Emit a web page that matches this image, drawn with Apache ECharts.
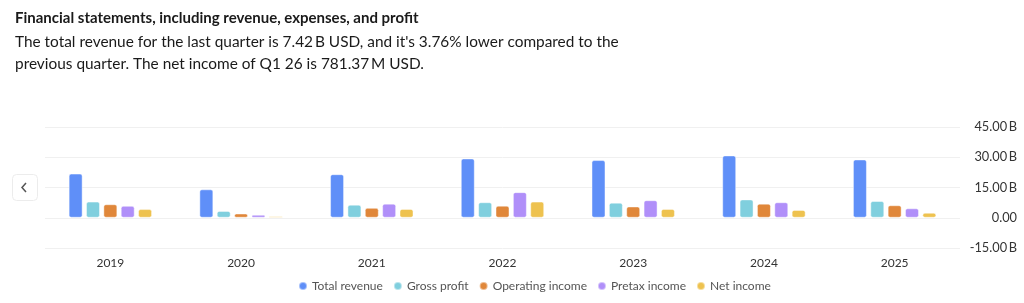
<!DOCTYPE html>
<html>
<head>
<meta charset="utf-8">
<script src="https://cdn.jsdelivr.net/npm/echarts@6/dist/echarts.min.js"></script>
<style>
  html, body { margin: 0; padding: 0; background: #fff; }
  #main { width: 1024px; height: 303px; }
</style>
</head>
<body>
<div id="main"></div>
<script>
// values in billions USD
var years = ['2019', '2020', '2021', '2022', '2023', '2024', '2025'];
var totalRevenue = [21.9, 14.1, 21.6, 29.4, 28.6, 30.9, 28.9];
var grossProfit = [8.0, 3.4, 6.5, 7.7, 7.5, 9.1, 8.3];
var operatingIncome = [6.7, 2.1, 4.9, 6.0, 5.6, 7.0, 6.2];
var pretaxIncome = [5.9, 1.5, 7.0, 12.7, 8.7, 7.7, 4.7];
var netIncome = [4.3, 0.7, 4.4, 8.0, 4.4, 3.9, 2.5];
var yTicks = [-15, 0, 15, 30, 45];

var seriesNames = ['Total revenue', 'Gross profit', 'Operating income', 'Pretax income', 'Net income'];
var seriesData = [totalRevenue, grossProfit, operatingIncome, pretaxIncome, netIncome];
var colors = ['#5f8ff8', '#80cfde', '#e0873a', '#b08ff9', '#eec24f'];

var dom = document.getElementById('main');
var myChart = echarts.init(dom, null, { renderer: 'canvas' });
var font = 'Lato, "Open Sans", sans-serif';

var series = seriesNames.map(function (name, i) {
  return {
    name: name,
    type: 'bar',
    data: seriesData[i],
    barWidth: 14,
    barGap: '24%',
    itemStyle: {
      color: colors[i],
      borderRadius: 2,
      borderColor: 'rgba(255,255,255,0.45)',
      borderWidth: 1
    }
  };
});

var option = {
  color: colors,
  animation: false,
  textStyle: { fontFamily: font },
  title: {
    text: 'Financial statements, including revenue, expenses, and profit',
    subtext: 'The total revenue for the last quarter is 7.42\u2009B USD, and it\'s 3.76% lower compared to the\nprevious quarter. The net income of Q1 26 is 781.37\u2009M USD.',
    left: 10,
    top: 6,
    itemGap: 5,
    textStyle: { fontFamily: font, fontSize: 15, fontWeight: 'bold', color: '#1a1a1a' },
    subtextStyle: { fontFamily: font, fontSize: 15.4, color: '#1a1a1a', lineHeight: 22 }
  },
  legend: {
    data: seriesNames,
    bottom: 6,
    left: 293,
    icon: 'circle',
    itemWidth: 8,
    itemHeight: 8,
    itemGap: 10,
    textStyle: { fontFamily: font, fontSize: 12, color: '#555' }
  },
  grid: { left: 45, right: 64, top: 127, bottom: 55 },
  xAxis: {
    type: 'category',
    data: years,
    axisLine: { show: false },
    axisTick: { show: false },
    axisLabel: { color: '#333', fontSize: 12, margin: 9, fontFamily: font }
  },
  yAxis: {
    type: 'value',
    position: 'right',
    min: yTicks[0],
    max: yTicks[yTicks.length - 1],
    interval: 15,
    splitLine: { lineStyle: { color: '#f0f0f0' } },
    axisLabel: {
      color: '#333',
      fontSize: 12.8,
      fontFamily: font,
      align: 'right',
      margin: 57,
      formatter: function (v) {
        return v === 0 ? '0.00' : v.toFixed(2) + '\u2009B';
      }
    }
  },
  graphic: [
    {
      type: 'rect',
      left: 12,
      top: 174,
      shape: { width: 25, height: 26, r: 4 },
      style: { fill: '#fff', stroke: '#ececec', lineWidth: 1 }
    },
    {
      type: 'polyline',
      shape: { points: [[26, 183], [22, 187.5], [26, 192]] },
      style: { stroke: '#555', lineWidth: 1.5, fill: null }
    }
  ],
  series: series
};

myChart.setOption(option);
window.addEventListener('resize', myChart.resize);
</script>
</body>
</html>
